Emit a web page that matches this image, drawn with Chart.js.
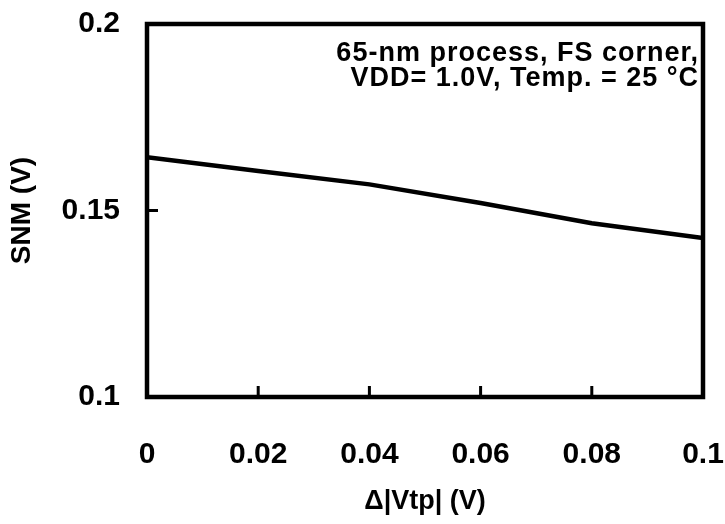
<!DOCTYPE html>
<html>
<head>
<meta charset="utf-8">
<script src="https://cdn.jsdelivr.net/npm/chart.js@4.4.1/dist/chart.umd.min.js"></script>
<style>
  html, body { margin: 0; padding: 0; background: #fff; }
  #wrap { width: 725px; height: 524px; position: relative; }
</style>
</head>
<body>
<div id="wrap"><canvas id="c" width="725" height="524"></canvas></div>
<script>
const deltaVtp = [0, 0.02, 0.04, 0.06, 0.08, 0.1];
const snm = [0.1643, 0.1606, 0.1570, 0.1520, 0.1466, 0.1426];
const xTicks = [0, 0.02, 0.04, 0.06, 0.08, 0.1];
const yTicks = [0.1, 0.15, 0.2];
const noteLines = ['65-nm process, FS corner,', 'VDD= 1.0V, Temp. = 25 \u00B0C'];

const FONT = '"Liberation Sans", Arial, sans-serif';

const framePlugin = {
  id: 'frame',
  afterDraw(chart) {
    const ctx = chart.ctx;
    const a = chart.chartArea;
    const xs = chart.scales.x, ys = chart.scales.y;
    ctx.save();
    ctx.strokeStyle = '#000';
    ctx.lineWidth = 4.5;
    ctx.strokeRect(a.left, a.top, a.right - a.left, a.bottom - a.top);
    ctx.lineWidth = 3;
    ctx.beginPath();
    xTicks.slice(1, -1).forEach(v => {
      const px = xs.getPixelForValue(v);
      ctx.moveTo(px, a.bottom);
      ctx.lineTo(px, a.bottom - 11);
    });
    yTicks.slice(1, -1).forEach(v => {
      const py = ys.getPixelForValue(v);
      ctx.moveTo(a.left, py);
      ctx.lineTo(a.left + 11, py);
    });
    ctx.stroke();
    ctx.fillStyle = '#000';
    ctx.font = 'bold 27px ' + FONT;
    ctx.textAlign = 'right';
    ctx.textBaseline = 'alphabetic';
    ctx.letterSpacing = '1px';
    ctx.fillText(noteLines[0], a.right - 4, a.top + 37);
    ctx.fillText(noteLines[1], a.right - 4, a.top + 62);
    ctx.restore();
  }
};

const fmt = v => String(Number(Number(v).toFixed(3)));

new Chart(document.getElementById('c'), {
  type: 'line',
  data: {
    datasets: [{
      data: deltaVtp.map((x, i) => ({ x: x, y: snm[i] })),
      borderColor: '#000',
      borderWidth: 4.5,
      pointRadius: 0,
      tension: 0,
      fill: false
    }]
  },
  options: {
    responsive: false,
    animation: false,
    devicePixelRatio: 1,
    layout: { padding: { left: 0, right: 22, top: 24, bottom: 0 } },
    plugins: { legend: { display: false }, tooltip: { enabled: false } },
    scales: {
      x: {
        type: 'linear',
        min: 0, max: 0.1,
        afterBuildTicks: s => { s.ticks = xTicks.map(v => ({ value: v })); },
        afterFit: s => { s.height = 524 - 397; s.paddingLeft = 0; s.paddingRight = 0; },
        grid: { display: false, drawTicks: false },
        border: { display: false },
        ticks: {
          padding: 40,
          color: '#000',
          font: { family: FONT, size: 30, weight: 'bold' },
          callback: v => fmt(v),
          maxRotation: 0,
          autoSkip: false
        },
        title: {
          display: true,
          text: '\u0394|Vtp| (V)',
          color: '#000',
          font: { family: FONT, size: 27, weight: 'bold' },
          padding: { top: 0, bottom: 6 }
        }
      },
      y: {
        type: 'linear',
        min: 0.1, max: 0.2,
        afterBuildTicks: s => { s.ticks = yTicks.map(v => ({ value: v })); },
        afterFit: s => { s.width = 147; s.paddingTop = 0; s.paddingBottom = 0; },
        grid: { display: false, drawTicks: false },
        border: { display: false },
        ticks: {
          padding: 27,
          color: '#000',
          font: { family: FONT, size: 30, weight: 'bold' },
          callback: v => fmt(v),
          autoSkip: false
        },
        title: {
          display: true,
          text: 'SNM (V)',
          color: '#000',
          font: { family: FONT, size: 28, weight: 'bold' },
          padding: { top: 5, bottom: 0 }
        }
      }
    }
  },
  plugins: [framePlugin]
});
</script>
</body>
</html>
